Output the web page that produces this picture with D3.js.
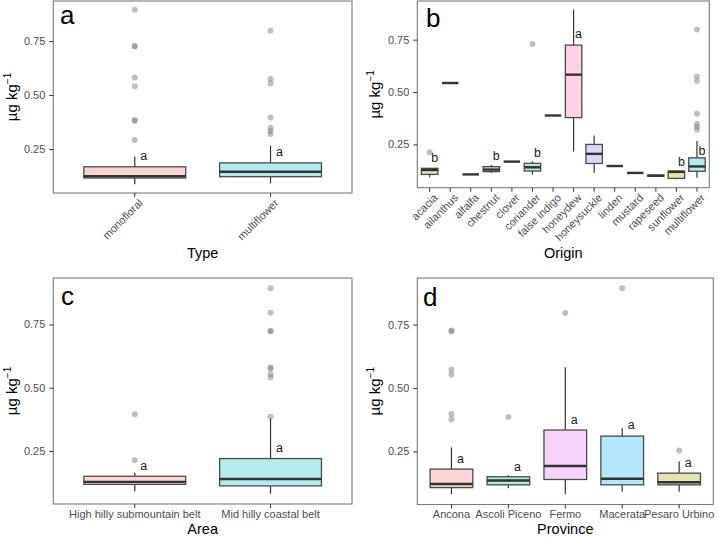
<!DOCTYPE html>
<html><head><meta charset="utf-8">
<script src="https://cdn.jsdelivr.net/npm/d3@7"></script>
<style>
html,body{margin:0;padding:0;background:#fff;}
svg{display:block;}
</style>
</head><body>
<svg id="chart" width="718" height="537"></svg>
<script>
// ---------------- DATA ----------------
// stats per category: [lowerWhisker, Q1, median, Q3, upperWhisker]
const yTicks = [0.25, 0.50, 0.75];

const typeCats = ["monofloral", "multiflower"];
const typeStats = [
  [0.087, 0.116, 0.124, 0.168, 0.215],
  [0.091, 0.122, 0.145, 0.186, 0.266]
];
const typeOutliers = [
  [0.895, 0.727, 0.725, 0.581, 0.541, 0.385, 0.380, 0.292],
  [0.798, 0.574, 0.553, 0.396, 0.349, 0.334, 0.320]
];
const typeLetters = [["a", 0.219], ["a", 0.237]];
const typeFills = ["#FDD6D3", "#B3ECED"];

const originCats = ["acacia", "ailanthus", "alfalfa", "chestnut", "clover", "coriander", "false indigo",
  "honeydew", "honeysuckle", "linden", "mustard", "rapeseed", "sunflower", "multiflower"];
const originStats = [
  [0.093, 0.107, 0.128, 0.136, 0.136],
  [0.543, 0.543, 0.543, 0.543, 0.543],
  [0.107, 0.107, 0.107, 0.107, 0.107],
  [0.115, 0.120, 0.130, 0.144, 0.152],
  [0.168, 0.168, 0.168, 0.168, 0.168],
  [0.106, 0.123, 0.141, 0.160, 0.170],
  [0.388, 0.388, 0.388, 0.388, 0.388],
  [0.216, 0.378, 0.583, 0.724, 0.894],
  [0.115, 0.159, 0.205, 0.250, 0.293],
  [0.147, 0.147, 0.147, 0.147, 0.147],
  [0.114, 0.114, 0.114, 0.114, 0.114],
  [0.096, 0.099, 0.101, 0.103, 0.106],
  [0.084, 0.088, 0.119, 0.123, 0.126],
  [0.091, 0.122, 0.145, 0.186, 0.266]
];
const originOutliers = [
  [0.213], [], [], [], [], [0.729], [], [], [], [], [], [], [],
  [0.798, 0.574, 0.553, 0.396, 0.349, 0.334, 0.320]
];
const originLetters = [["b", 0.189], null, null, ["b", 0.196], null, ["b", 0.210], null,
  ["a", 0.777], null, null, null, null, ["b", 0.168], ["b", 0.220]];
const originFills = ["#D6EDB0", "#333333", "#333333", "#E8DDB8", "#333333", "#B3EBD8", "#333333",
  "#FDD0E6", "#DCD6FA", "#333333", "#333333", "#D8D8D8", "#E6E3AE", "#B3ECED"];

const areaCats = ["High hilly submountain belt", "Mid hilly coastal belt"];
const areaStats = [
  [0.091, 0.118, 0.128, 0.150, 0.164],
  [0.081, 0.112, 0.139, 0.220, 0.380]
];
const areaOutliers = [
  [0.395, 0.213],
  [0.893, 0.796, 0.725, 0.722, 0.581, 0.575, 0.553, 0.540, 0.385]
];
const areaLetters = [["a", 0.192], ["a", 0.262]];
const areaFills = ["#FDD6D3", "#B3ECED"];

const provCats = ["Ancona", "Ascoli Piceno", "Fermo", "Macerata", "Pesaro Urbino"];
const provStats = [
  [0.081, 0.107, 0.121, 0.180, 0.266],
  [0.104, 0.118, 0.135, 0.150, 0.156],
  [0.081, 0.139, 0.192, 0.334, 0.582],
  [0.091, 0.118, 0.142, 0.310, 0.343],
  [0.091, 0.118, 0.128, 0.164, 0.210]
];
const provOutliers = [
  [0.727, 0.724, 0.572, 0.553, 0.397, 0.377],
  [0.385],
  [0.796],
  [0.893],
  [0.253]
];
const provLetters = [["a", 0.222], ["a", 0.190], ["a", 0.376], ["a", 0.356], ["a", 0.206]];
const provFills = ["#FDD6D3", "#B3EAD8", "#F7D2FB", "#B3E7FC", "#E4E3B2"];

// ---------------- DRAWING ----------------
const svg = d3.select("#chart");
const FONT = "'Liberation Sans', Arial, sans-serif";

function drawPanel(p) {
  const g = svg.append("g");
  const all = [];
  p.stats.forEach(s => all.push(...s));
  p.outliers.forEach(o => all.push(...o));
  const mn = d3.min(all), mx = d3.max(all), pad = (mx - mn) * 0.05;

  const x = d3.scaleBand().domain(p.cats).range([p.x0, p.x1]).paddingInner(0).paddingOuter(0.1);
  const y = d3.scaleLinear().domain([mn - pad, mx + pad]).range([p.y1, p.y0]);
  const bw = x.bandwidth() * p.boxW;
  const cx = c => x(c) + x.bandwidth() / 2;

  // boxes
  p.cats.forEach((c, i) => {
    const s = p.stats[i];
    const xc = cx(c);
    g.append("line").attr("x1", xc).attr("x2", xc).attr("y1", y(s[3])).attr("y2", y(s[4]))
      .attr("stroke", "#333").attr("stroke-width", 1.2);
    g.append("line").attr("x1", xc).attr("x2", xc).attr("y1", y(s[1])).attr("y2", y(s[0]))
      .attr("stroke", "#333").attr("stroke-width", 1.2);
    g.append("rect").attr("x", xc - bw / 2).attr("width", bw)
      .attr("y", y(s[3])).attr("height", Math.max(0, y(s[1]) - y(s[3])))
      .attr("fill", p.fills[i]).attr("stroke", "#4a4a4a").attr("stroke-width", 1.3);
    g.append("line").attr("x1", xc - bw / 2).attr("x2", xc + bw / 2)
      .attr("y1", y(s[2])).attr("y2", y(s[2]))
      .attr("stroke", "#333").attr("stroke-width", 2.4);
    p.outliers[i].forEach(v => {
      g.append("circle").attr("cx", xc).attr("cy", y(v)).attr("r", 3)
        .attr("fill", "#7f7f7f").attr("fill-opacity", 0.5);
    });
    const L = p.letters[i];
    if (L) {
      g.append("text").attr("x", xc + p.nudge).attr("y", y(L[1])).attr("dy", "0.35em")
        .attr("text-anchor", "middle").attr("font-family", FONT).attr("font-size", 12.5)
        .attr("fill", "#1a1a1a").text(L[0]);
    }
  });

  // panel border
  g.append("rect").attr("x", p.x0).attr("y", p.y0).attr("width", p.x1 - p.x0).attr("height", p.y1 - p.y0)
    .attr("fill", "none").attr("stroke", "#7a7a7a").attr("stroke-width", 1.1);

  // y axis
  const ya = g.append("g").attr("transform", `translate(${p.x0},0)`)
    .call(d3.axisLeft(y).tickValues(yTicks).tickFormat(d3.format(".2f")).tickSize(4).tickPadding(4));
  ya.select(".domain").remove();
  ya.selectAll("line").attr("stroke", "#333");
  ya.selectAll("text").attr("font-family", FONT).attr("font-size", 11).attr("fill", "#4d4d4d");

  // x axis
  const xa = g.append("g").attr("transform", `translate(0,${p.y1})`)
    .call(d3.axisBottom(x).tickSize(4).tickPadding(3));
  xa.select(".domain").remove();
  xa.selectAll("line").attr("stroke", "#333");
  xa.selectAll("text").attr("font-family", FONT).attr("font-size", 11).attr("fill", "#4d4d4d");
  if (p.rotate) {
    xa.selectAll("text")
      .attr("text-anchor", "end")
      .attr("transform", "translate(6,8) rotate(-45)")
      .attr("x", 0).attr("y", 0).attr("dy", "0.35em");
  } else {
    xa.selectAll("text").attr("y", 6).attr("dy", "0.71em");
  }

  // titles
  g.append("text").attr("x", (p.x0 + p.x1) / 2).attr("y", p.xTitleY)
    .attr("text-anchor", "middle").attr("font-family", FONT).attr("font-size", 14.5)
    .attr("fill", "#000").text(p.xTitle);
  const yt = g.append("text")
    .attr("transform", `translate(${p.yTitleX},${(p.y0 + p.y1) / 2}) rotate(-90)`)
    .attr("text-anchor", "middle").attr("font-family", FONT).attr("font-size", 15).attr("fill", "#000");
  yt.append("tspan").text("µg kg");
  yt.append("tspan").attr("dy", -6).attr("font-size", 10).text("−1");

  // panel letter
  g.append("text").attr("x", p.lx).attr("y", p.ly).attr("font-family", FONT)
    .attr("font-size", 26).attr("fill", "#000").text(p.letter);
}

drawPanel({cats: typeCats, stats: typeStats, outliers: typeOutliers, letters: typeLetters, fills: typeFills,
  x0: 53.3, x1: 352, y0: 1, y1: 193, boxW: 0.75, nudge: 9, rotate: true,
  xTitle: "Type", xTitleY: 258, yTitleX: 17, letter: "a", lx: 60, ly: 24});
drawPanel({cats: originCats, stats: originStats, outliers: originOutliers, letters: originLetters, fills: originFills,
  x0: 417.3, x1: 709.3, y0: 1, y1: 187.7, boxW: 0.8, nudge: 5, rotate: true,
  xTitle: "Origin", xTitleY: 258, yTitleX: 380, letter: "b", lx: 426, ly: 26.5});
drawPanel({cats: areaCats, stats: areaStats, outliers: areaOutliers, letters: areaLetters, fills: areaFills,
  x0: 53.3, x1: 352, y0: 278, y1: 504, boxW: 0.75, nudge: 9, rotate: false,
  xTitle: "Area", xTitleY: 533.5, yTitleX: 17, letter: "c", lx: 61, ly: 305});
drawPanel({cats: provCats, stats: provStats, outliers: provOutliers, letters: provLetters, fills: provFills,
  x0: 417.3, x1: 713.3, y0: 278, y1: 504.5, boxW: 0.75, nudge: 9, rotate: false,
  xTitle: "Province", xTitleY: 533.5, yTitleX: 380, letter: "d", lx: 423, ly: 306});
</script>
</body></html>
